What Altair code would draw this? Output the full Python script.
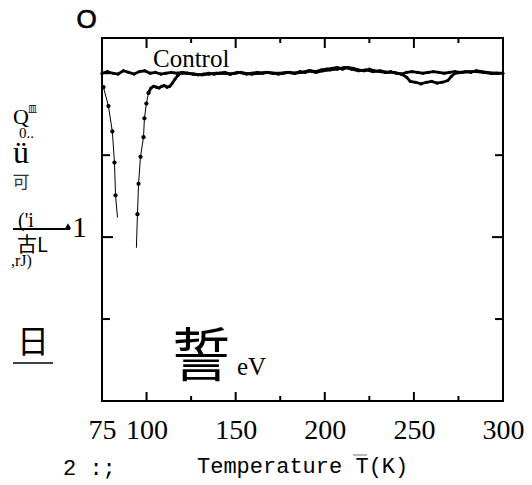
import altair as alt
import pandas as pd

# ---- data ----
ctrl_T = [75, 78, 81, 84, 87, 90, 93, 96, 99, 102, 105, 108, 111, 114, 117, 120,
          123, 126, 129, 132, 135, 138, 141, 144, 147, 150, 153, 156, 159, 162,
          165, 168, 171, 174, 177, 180, 183, 186, 189, 192, 195, 198, 201, 204,
          207, 210, 213, 216, 219, 222, 225, 228, 231, 234, 237, 240, 243, 246,
          249, 252, 255, 258, 261, 264, 267, 270, 273, 276, 279, 282, 285, 288,
          291, 294, 297, 300]
ctrl_v = [4.00, 4.02, 4.00, 3.99, 4.03, 4.01, 3.99, 4.02, 4.03, 4.00, 4.01, 3.99,
          4.00, 4.01, 4.00, 4.01, 4.00, 3.99, 3.98, 3.99, 4.00, 3.99, 4.00, 4.01,
          3.99, 4.00, 4.01, 3.99, 4.00, 4.01, 4.00, 4.01, 4.00, 3.99, 4.00, 4.01,
          4.00, 4.02, 4.01, 4.03, 4.02, 4.04, 4.05, 4.06, 4.07, 4.05, 4.07, 4.06,
          4.04, 4.03, 4.05, 4.03, 4.02, 4.01, 4.02, 4.00, 3.99, 4.01, 4.02, 4.01,
          4.00, 4.01, 4.02, 4.01, 4.00, 4.01, 4.02, 4.01, 4.02, 4.01, 4.03, 4.02,
          4.01, 4.00, 4.00, 4.00]

# falling branch (dots on all but the last point)
dip1_T = [75.8, 78.6, 80.8, 82.0, 82.6, 83.7]
dip1_v = [3.83, 3.60, 3.29, 2.91, 2.51, 2.24]
dip1_dot = [1, 1, 1, 1, 1, 0]

# rising branch
dip2_T = [94.3, 94.9, 95.5, 96.6, 98.3, 98.8, 99.9, 101.1]
dip2_v = [1.87, 2.28, 2.65, 2.98, 3.22, 3.45, 3.63, 3.76]
dip2_dot = [0, 1, 1, 1, 1, 1, 1, 1]

# dense part of the second trace
dense_T = [101.1, 102.5, 104, 105.5, 107, 108.5, 110, 111.5, 113, 114.5, 116, 117.5,
           119, 123, 127, 131, 135, 139, 143, 147, 151, 155, 159, 163, 167, 171,
           175, 179, 183, 187, 191, 195, 199, 203, 207, 211, 215, 219, 223, 227,
           231, 235, 239, 243, 246, 248, 251, 254, 257, 260, 263, 266, 269, 271,
           273, 277, 281, 285, 289, 293, 297]
dense_v = [3.76, 3.82, 3.84, 3.83, 3.82, 3.84, 3.85, 3.83, 3.84, 3.88, 3.93, 3.97,
           4.00, 4.00, 3.99, 3.98, 3.99, 4.00, 4.00, 3.99, 4.01, 4.00, 3.99, 4.00,
           4.01, 4.00, 4.00, 4.01, 4.00, 4.01, 4.03, 4.01, 4.03, 4.04, 4.05, 4.07,
           4.05, 4.03, 4.04, 4.02, 4.03, 4.01, 4.01, 3.99, 3.95, 3.90, 3.89, 3.87,
           3.89, 3.90, 3.88, 3.89, 3.91, 3.96, 4.00, 4.01, 4.02, 4.02, 4.01, 4.00,
           4.00]

xlabel_vals = [75, 100, 150, 200, 250, 300]
xtick_major = [100, 150, 200, 250]
xtick_minor = [125, 175, 225, 275]
ytick_short = [1, 3, 4]
ytick_long = [2]

W, H = 401, 363
SERIF = "Liberation Serif"
CJK = "Noto Sans CJK SC"
MONO = "Liberation Mono"

xs = alt.Scale(domain=[75, 300], nice=False, zero=False)
ys = alt.Scale(domain=[0, 4.43], nice=False, zero=False)
xaxis = alt.Axis(values=xlabel_vals, title=None, grid=False, domain=False, ticks=False,
                 tickSize=0, labelFont=SERIF, labelFontSize=28, labelColor="black",
                 labelPadding=37, labelBaseline="alphabetic", labelFlush=False,
                 labelOverlap=False)
X = alt.X("T:Q", scale=xs, axis=xaxis)
Y = alt.Y("v:Q", scale=ys, axis=None)

ctrl_df = pd.DataFrame({"T": ctrl_T, "v": ctrl_v})
d1 = pd.DataFrame({"T": dip1_T, "v": dip1_v, "dot": dip1_dot})
d2 = pd.DataFrame({"T": dip2_T, "v": dip2_v, "dot": dip2_dot})
dense_df = pd.DataFrame({"T": dense_T, "v": dense_v})

layers = []
for df in (ctrl_df, dense_df):
    base = alt.Chart(df)
    layers.append(base.mark_line(color="black", strokeWidth=2.8).encode(x=X, y=Y))
    layers.append(base.mark_circle(color="black", size=10, opacity=1).encode(x=X, y=Y))
for df in (d1, d2):
    base = alt.Chart(df)
    layers.append(base.mark_line(color="black", strokeWidth=1).encode(x=X, y=Y))
    layers.append(base.transform_filter("datum.dot == 1")
                  .mark_circle(color="black", size=18, opacity=1).encode(x=X, y=Y))

# inward ticks
def xt(vals, ln, top):
    c = alt.Chart(pd.DataFrame({"T": vals})).mark_rule(color="black", strokeWidth=2)
    if top:
        return c.encode(x=X, y=alt.value(0), y2=alt.value(ln))
    return c.encode(x=X, y=alt.value(H - ln), y2=alt.value(H))

def yt(vals, ln, right):
    c = alt.Chart(pd.DataFrame({"v": vals})).mark_rule(color="black", strokeWidth=2)
    if right:
        return c.encode(y=Y, x=alt.value(W - ln), x2=alt.value(W))
    return c.encode(y=Y, x=alt.value(0), x2=alt.value(ln))

layers += [xt(xtick_major, 9, False), xt(xtick_minor, 5, False),
           xt(xtick_major, 10, True), xt(xtick_minor, 5, True),
           yt(ytick_short, 8, False), yt(ytick_long, 11, False),
           yt(ytick_short, 8, True), yt(ytick_long, 11, True)]

one = pd.DataFrame({"d": [0]})

def txt(s, x, y, font, size, align="left", baseline="alphabetic", color="black", sw=0):
    kw = dict(text=s, font=font, fontSize=size, align=align, baseline=baseline, color=color)
    if sw:
        kw.update(stroke=color, strokeWidth=sw)
    return alt.Chart(one).mark_text(**kw).encode(x=alt.value(x), y=alt.value(y))

def hline(x1, x2, y, w, color="black"):
    return alt.Chart(one).mark_rule(color=color, strokeWidth=w).encode(
        x=alt.value(x1), x2=alt.value(x2), y=alt.value(y))

OX, OY = 102, 38
layers += [
    txt("O", 86.5 - OX, 27.5 - OY, "Liberation Sans", 26, "center", "alphabetic", sw=0.7),
    txt("Control", 153 - OX, 67 - OY, SERIF, 25),
    txt("Q", 13 - OX, 124 - OY, SERIF, 22),
    txt("皿", 28 - OX, 112 - OY, CJK, 9),
    txt("0..", 19 - OX, 138 - OY, SERIF, 15),
    txt("ü", 13 - OX, 163 - OY, SERIF, 32),
    txt("可", 21 - OX, 183 - OY, CJK, 17, "center", "middle", "#333333"),
    txt("('i", 18 - OX, 227 - OY, SERIF, 20),
    hline(13 - OX, 70 - OX, 229 - OY, 2),
    alt.Chart(one).mark_point(shape="triangle-up", filled=True, color="black",
                              size=40, opacity=1).encode(
        x=alt.value(68 - OX), y=alt.value(226 - OY)),
    txt("1", 72 - OX, 237 - OY, SERIF, 30),
    txt("古L", 17 - OX, 252 - OY, CJK, 20),
    txt(",rJ)", 11 - OX, 266 - OY, SERIF, 16),
    txt("日", 33 - OX, 343 - OY, CJK, 32, "center", "middle"),
    hline(13 - OX, 53 - OX, 363 - OY, 1.5),
    txt("誓", 201 - OX, 359 - OY, CJK, 58, "center", "middle"),
    txt("eV", 237 - OX, 375 - OY, SERIF, 25),
    txt("2 :;", 63 - OX, 475 - OY, MONO, 22),
    txt("Temperature T(K)", 197 - OX, 473 - OY, MONO, 22),
    hline(353 - OX, 367 - OX, 455 - OY, 1, "#777777"),
]

chart = alt.layer(*layers).properties(
    width=W, height=H,
    padding={"left": 94, "top": 30, "right": 21, "bottom": 84},
    autosize=alt.AutoSizeParams(type="none"),
    background="white",
).configure_view(stroke="black", strokeWidth=2)

chart.save("out.html", embed_options={"renderer": "svg", "actions": False})
